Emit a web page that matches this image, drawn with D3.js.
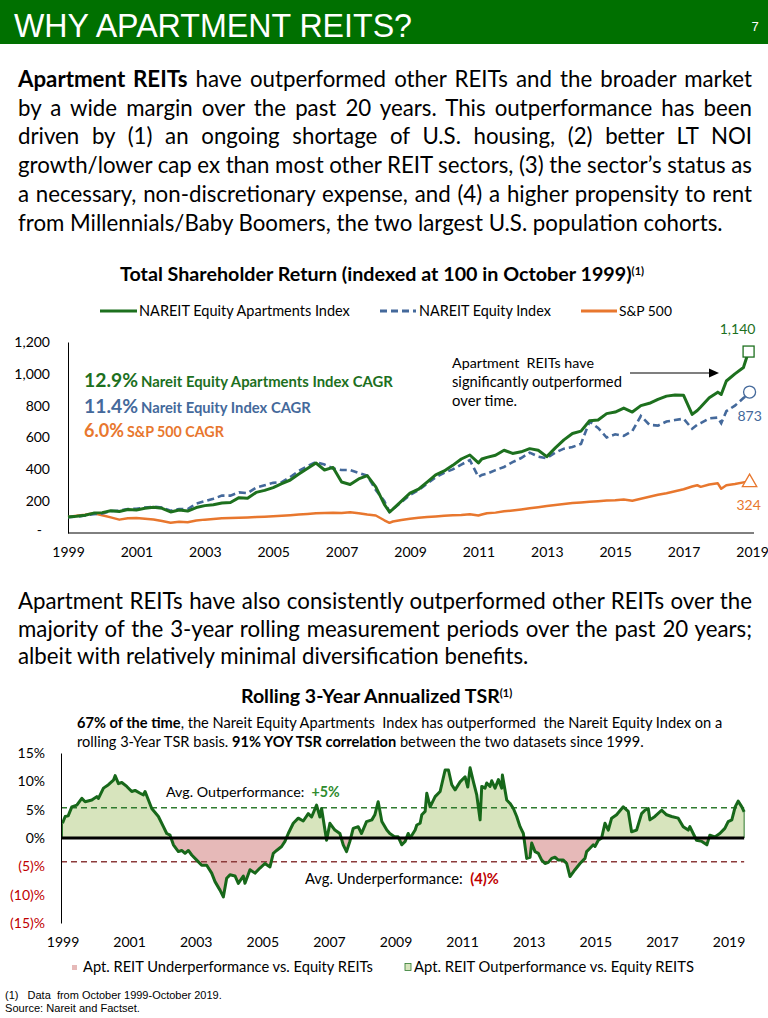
<!DOCTYPE html>
<html><head><meta charset="utf-8">
<script src="https://cdn.jsdelivr.net/npm/d3@7"></script>
<style>
body{margin:0;background:#fff;}
svg{display:block;}
text{font-family:Lato,"Open Sans",sans-serif;white-space:pre;}
.narrow{font-family:"Liberation Sans Narrow","Liberation Sans",Arial,sans-serif;}
</style></head><body>
<svg id="c" width="768" height="1018"></svg>
<script>
// ---------------- DATA ----------------
// Top chart: axis year 1999 = October 1999 (index = 100)
const tsrDates = [
 1999.00,1999.25,1999.50,1999.75, 2000.00,2000.25,2000.50,2000.75, 2001.00,2001.25,2001.50,2001.75,
 2002.00,2002.25,2002.50,2002.75, 2003.00,2003.25,2003.50,2003.75, 2004.00,2004.25,2004.50,2004.75,
 2005.00,2005.25,2005.50,2005.75, 2006.00,2006.25,2006.50,2006.75, 2007.00,2007.25,2007.50,2007.75,
 2008.00,2008.25,2008.40,2008.50,2008.75, 2009.00,2009.25,2009.50,2009.75, 2010.00,2010.25,2010.50,2010.75,
 2011.00,2011.10,2011.25,2011.50,2011.75, 2012.00,2012.25,2012.50,2012.75, 2013.00,2013.25,2013.50,2013.75,
 2014.00,2014.25,2014.50,2014.75, 2015.00,2015.25,2015.50,2015.75, 2016.00,2016.25,2016.50,2016.75,
 2017.00,2017.25,2017.40,2017.50,2017.75, 2018.00,2018.10,2018.25,2018.50,2018.75,2018.90];
const aptIndex = [
 100,105,112,125, 128,140,135,148, 145,155,162,155,
 132,145,138,160, 172,178,188,192, 222,218,255,268,
 285,310,333,370, 405,440,396,412, 320,305,340,360,
 290,180,132,150,200, 250,275,320,365, 390,425,465,490,
 440,465,475,488,520, 500,510,530,520, 480,535,585,625,
 640,705,710,750, 760,785,760,800, 815,840,860,867,
 865,745,770,792,850, 885,870,955,1000,1040,1140];
const equityIndex = [
 100,102,110,118, 122,138,140,150, 152,160,165,160,
 140,150,150,185, 200,215,235,235, 255,250,285,300,
 315,320,352,390, 420,445,430,405, 396,395,378,360,
 270,200,132,150,195, 239,270,310,350, 378,400,430,458,
 352,365,372,395,415, 445,471,505,480, 470,505,530,540,
 560,700,660,600, 620,610,640,735, 680,675,700,710,
 718,655,680,690,720, 725,690,765,800,848,873];
const sp500 = [
 100,108,115,124, 112,98,84,92, 94,90,85,75,
 65,70,68,78, 84,88,92,94, 96,98,100,102,
 105,108,112,116, 120,124,126,128, 125,130,124,116,
 110,80,64,72,82, 90,96,100,104, 108,112,113,118,
 110,116,124,128,136, 142,148,155,162, 170,176,182,188,
 192,196,200,204, 206,210,203,215, 228,240,250,262,
 275,292,300,290,305, 312,278,300,308,318,324];
const tsrYTicks = [0,200,400,600,800,1000,1200];
const tsrXTicks = [1999,2001,2003,2005,2007,2009,2011,2013,2015,2017,2019];
const seriesNames = ["NAREIT Equity Apartments Index","NAREIT Equity Index","S&P 500"];
const cagr = [["12.9%","Nareit Equity Apartments Index CAGR"],["11.4%","Nareit Equity Index CAGR"],["6.0%","S&P 500 CAGR"]];

// Bottom chart: rolling 3-year annualized TSR spread (Apt minus Equity), %
const rollDates = [
 1999.00,1999.08,1999.17,1999.28,1999.43,1999.58,1999.68,1999.88,
 2000.03,2000.08,2000.23,2000.38,2000.53,2000.58,2000.68,2000.78,2000.93,
 2001.08,2001.18,2001.33,2001.43,2001.48,2001.58,2001.68,2001.88,
 2002.03,2002.13,2002.23,2002.33,2002.48,2002.58,2002.68,2002.78,2002.88,
 2003.03,2003.18,2003.33,2003.48,2003.58,2003.73,2003.83,2003.93,
 2004.03,2004.18,2004.28,2004.43,2004.48,2004.63,2004.78,2004.93,
 2005.08,2005.23,2005.33,2005.43,2005.58,2005.68,2005.78,2005.93,
 2006.08,2006.23,2006.38,2006.48,2006.63,2006.73,2006.78,2006.93,
 2007.03,2007.18,2007.33,2007.43,2007.53,2007.63,2007.73,2007.88,2007.98,
 2008.13,2008.29,2008.38,2008.48,2008.59,2008.74,2008.83,2008.98,
 2009.08,2009.19,2009.29,2009.38,2009.44,2009.59,2009.64,2009.74,2009.79,2009.89,2009.94,
 2010.04,2010.19,2010.34,2010.49,2010.59,2010.69,2010.79,2010.94,
 2011.09,2011.17,2011.24,2011.34,2011.44,2011.54,2011.59,2011.69,2011.74,2011.84,2011.89,2011.99,
 2012.09,2012.19,2012.21,2012.34,2012.44,2012.54,2012.64,2012.74,2012.84,2012.94,
 2013.04,2013.09,2013.19,2013.29,2013.39,2013.49,2013.59,2013.69,2013.79,2013.89,
 2014.04,2014.14,2014.24,2014.39,2014.54,2014.69,2014.74,2014.84,2014.94,2014.99,
 2015.09,2015.19,2015.29,2015.39,2015.49,2015.64,2015.84,2015.99,
 2016.09,2016.24,2016.39,2016.49,2016.59,2016.64,2016.79,2016.99,
 2017.14,2017.29,2017.49,2017.64,2017.79,2017.84,2017.94,
 2018.04,2018.20,2018.35,2018.44,2018.59,2018.74,2018.89,2018.99,
 2019.10,2019.20,2019.29,2019.40,2019.47];
const rollSpread = [
 2.6,3.8,3.9,5.5,5.8,7.0,6.4,6.7,
 7.3,7.0,8.8,9.4,10.2,11.0,9.6,9.8,9.1,
 8.2,8.4,7.9,7.6,8.2,6.7,5.2,3.8,
 2.0,0.8,0.5,-1.2,-2.4,-2.2,-2.7,-2.2,-3.0,
 -3.9,-4.8,-4.8,-6.2,-7.7,-9.2,-10.4,-7.1,
 -6.5,-6.7,-8.0,-6.7,-8.0,-5.6,-6.2,-5.3,
 -4.5,-5.1,-2.7,-2.2,-1.5,-0.6,0.8,2.6,
 3.5,3.0,4.3,3.7,5.8,3.7,5.2,-0.4,
 2.6,1.4,0.8,-1.2,-2.4,-0.6,1.7,2.0,0.8,
 2.9,3.2,4.1,6.4,2.9,1.4,0.8,0.2,
 0.2,-1.2,-0.6,0.8,0.0,1.4,2.3,2.6,4.1,4.7,7.9,
 5.5,7.3,8.2,12.0,12.0,9.4,8.5,9.9,
 10.8,9.0,12.4,9.9,7.6,3.2,9.1,8.8,9.7,9.1,10.1,8.8,
 10.3,8.8,11.1,6.7,6.1,5.2,3.8,2.0,0.8,-3.6,
 -3.4,-0.9,-2.4,-2.7,-3.9,-4.5,-4.3,-3.6,-3.4,-3.9,
 -3.9,-4.5,-6.8,-5.6,-4.5,-3.6,-2.4,-1.8,-1.2,-1.5,
 -0.4,0.0,2.6,1.4,3.5,4.1,5.5,4.7,
 1.1,1.4,4.3,4.9,5.2,3.2,3.8,4.9,
 4.1,3.8,3.5,2.0,1.4,2.0,0.8,
 -0.4,-0.6,-1.2,0.5,0.2,0.8,1.7,2.9,
 3.2,5.5,6.5,5.5,4.6];
const avgOutperformance = 5.35;
const avgUnderperformance = -4.2;
const rollYTicks = [-15,-10,-5,0,5,10,15];
const rollXTicks = [1999,2001,2003,2005,2007,2009,2011,2013,2015,2017,2019];

// ---------------- DRAWING ----------------
const svg = d3.select('#c');
const C = {green:'#1d701e', blue:'#44699b', orange:'#e8772e', header:'#007000',
  fillG:'#d7e4bd', fillR:'#e6b9b8', red:'#c00000'};

function fit(sel, w){
  const cur = sel.node().getComputedTextLength();
  const fs = parseFloat(sel.attr('font-size'));
  sel.attr('font-size', fs * w / cur);
  return sel;
}
function addText(x, y, segs, fs, opts={}){
  const t = svg.append('text').attr('x',x).attr('y',y).attr('font-size',fs)
    .attr('fill',opts.fill||'#000');
  if(opts.anchor) t.attr('text-anchor',opts.anchor);
  if(opts.cls) t.attr('class',opts.cls);
  if(opts.weight) t.attr('font-weight',opts.weight);
  segs.forEach(s=>{
    if(typeof s==='string') s=[s];
    const sp=t.append('tspan').text(s[0]);
    if(s[1]) sp.attr('font-weight','bold');
    if(s[2]) sp.attr('fill',s[2]);
  });
  if(opts.width) fit(t, opts.width);
  return t;
}

// header
svg.append('rect').attr('x',0).attr('y',0).attr('width',768).attr('height',44).attr('fill',C.header);
svg.append('text').attr('class','narrow').attr('x',14).attr('y',37).attr('font-size',34)
  .attr('fill','#fff').attr('textLength',398).attr('lengthAdjust','spacingAndGlyphs').text('WHY APARTMENT REITS?');
svg.append('text').attr('class','narrow').attr('x',755).attr('y',31).attr('font-size',13)
  .attr('fill','#fff').attr('text-anchor','middle').text('7');

// paragraphs
function paragraph(lines, x, y0, lh, width, lastWidth, fixedFs){
  const fs0 = 20;
  const els = lines.map((segs,i)=>addText(x, y0+i*lh, segs, fs0));
  const last = els[els.length-1];
  const fs = fixedFs || fs0 * lastWidth / last.node().getComputedTextLength();
  els.forEach(e=>e.attr('font-size',fs));
  els.slice(0,-1).forEach(e=>{
    const w = e.node().getComputedTextLength();
    const n = (e.text().match(/ /g)||[]).length;
    e.attr('word-spacing', (width-w)/n);
  });
  return fs;
}
const pfs = paragraph([
  [["Apartment REITs",1],[" have outperformed other REITs and the broader market"]],
  ["by a wide margin over the past 20 years. This outperformance has been"],
  ["driven by (1) an ongoing shortage of U.S. housing, (2) better LT NOI"],
  ["growth/lower cap ex than most other REIT sectors, (3) the sector\u2019s status as"],
  ["a necessary, non-discretionary expense, and (4) a higher propensity to rent"],
  ["from Millennials/Baby Boomers, the two largest U.S. population cohorts."]
], 18, 87, 28.7, 734, 705);

paragraph([
  ["Apartment REITs have also consistently outperformed other REITs over the"],
  ["majority of the 3-year rolling measurement periods over the past 20 years;"],
  ["albeit with relatively minimal diversification benefits."]
], 18, 609, 27.5, 734, 640, pfs);

// ---------- TOP CHART ----------
{
  const x = d3.scaleLinear().domain([1999,2019]).range([68,752]);
  const y = d3.scaleLinear().domain([0,1200]).range([533,342]);
  const t = addText(120, 281, [["Total Shareholder Return (indexed at 100 in October 1999)"]], 16, {weight:'bold'});
  fit(t, 512);
  t.append('tspan').attr('font-size',11).attr('dy',-6).text('(1)');

  // legend
  const lg = svg.append('g');
  lg.append('line').attr('x1',100).attr('x2',137).attr('y1',311).attr('y2',311).attr('stroke',C.green).attr('stroke-width',3);
  addText(139, 316, [seriesNames[0]], 13.5, {width:211});
  lg.append('line').attr('x1',380).attr('x2',416).attr('y1',311).attr('y2',311).attr('stroke',C.blue).attr('stroke-width',3).attr('stroke-dasharray','7,4');
  addText(419, 316, [seriesNames[1]], 13.5, {width:132});
  lg.append('line').attr('x1',581).attr('x2',617).attr('y1',311).attr('y2',311).attr('stroke',C.orange).attr('stroke-width',3);
  addText(619, 316, [seriesNames[2]], 13.5, {width:53});

  // axes
  const yAx = svg.append('g').attr('transform','translate(68,0)')
    .call(d3.axisLeft(y).tickValues(tsrYTicks).tickSize(0).tickPadding(18)
      .tickFormat(d=> d===0 ? '' : d3.format(',')(d)));
  yAx.select('.domain').attr('stroke','#000').attr('stroke-width',1);
  yAx.selectAll('text').attr('font-size',14).attr('font-family','Lato,sans-serif').attr('fill','#000');
  svg.append('text').attr('x',42).attr('y',y(0)+2).attr('font-size',14).attr('text-anchor','end').text('-');
  svg.append('line').attr('x1',68).attr('x2',754).attr('y1',533).attr('y2',533).attr('stroke','#000').attr('stroke-width',1);
  const xAx = svg.append('g').attr('transform','translate(0,533)')
    .call(d3.axisBottom(x).tickValues(tsrXTicks).tickSize(0).tickPadding(14).tickFormat(d3.format('d')));
  xAx.select('.domain').remove();
  xAx.selectAll('text').attr('font-size',14).attr('font-family','Lato,sans-serif').attr('fill','#000');

  const line = d3.line().x((d,i)=>x(tsrDates[i])).y(d=>y(d)).curve(d3.curveLinear);
  svg.append('path').datum(sp500).attr('d',line).attr('fill','none').attr('stroke',C.orange).attr('stroke-width',2.5).attr('stroke-linejoin','round');
  svg.append('path').datum(equityIndex).attr('d',line).attr('fill','none').attr('stroke',C.blue).attr('stroke-width',2.6).attr('stroke-dasharray','7,4');
  svg.append('path').datum(aptIndex).attr('d',line).attr('fill','none').attr('stroke',C.green).attr('stroke-width',3).attr('stroke-linejoin','round');

  const n = tsrDates.length-1, lx = x(tsrDates[n]);
  svg.append('rect').attr('x',lx-5.5).attr('y',y(aptIndex[n])-5.5).attr('width',11).attr('height',11)
    .attr('fill','#fff').attr('stroke',C.green).attr('stroke-width',1.3);
  svg.append('circle').attr('cx',lx+1).attr('cy',y(equityIndex[n])-2).attr('r',6)
    .attr('fill','#fff').attr('stroke',C.blue).attr('stroke-width',1.3);
  svg.append('path').attr('d',d3.symbol(d3.symbolTriangle,90)()).attr('transform',`translate(${lx+1},${y(sp500[n])+1})`)
    .attr('fill','#fff').attr('stroke',C.orange).attr('stroke-width',1.3);
  addText(lx-11, y(aptIndex[n])-18, [d3.format(',')(aptIndex[n])], 14, {fill:C.green, anchor:'middle'});
  addText(lx+1, y(equityIndex[n])+27, [d3.format(',')(equityIndex[n])], 14, {fill:C.blue, anchor:'middle'});
  addText(lx, y(sp500[n])+29, [d3.format(',')(sp500[n])], 14, {fill:C.orange, anchor:'middle'});

  // CAGR labels
  const cc = [C.green, C.blue, C.orange];
  const cy = [387, 413, 437];
  const descW = [252, 170, 97];
  cagr.forEach((c,i)=>{
    const a = svg.append('text').attr('x',84).attr('y',cy[i]).attr('font-size',20).attr('font-weight','bold').attr('fill',cc[i]).text(c[0]);
    fit(a, i===2 ? 40 : 54);
    const aw = a.node().getComputedTextLength();
    addText(84+aw+3, cy[i], [c[1]], 14, {fill:cc[i], weight:'bold', width:descW[i]});
  });

  // annotation
  addText(452, 368, ["Apartment  REITs have"], 14, {width:142});
  addText(452, 387, ["significantly outperformed"], 14, {width:170});
  addText(452, 406, ["over time."], 14, {width:65});
  svg.append('line').attr('x1',630).attr('x2',711).attr('y1',373).attr('y2',373).attr('stroke','#000').attr('stroke-width',1.2);
  svg.append('path').attr('d','M719,373 L709,368.5 L709,377.5 Z').attr('fill','#000');
}

// ---------- BOTTOM CHART ----------
{
  const x = d3.scaleLinear().domain([1999,2019]).range([62.5,728.5]);
  const y = d3.scaleLinear().domain([-15,15]).range([923,753]);
  const t = addText(241, 703, [["Rolling 3-Year Annualized TSR"]], 16, {weight:'bold'});
  fit(t, 259);
  t.append('tspan').attr('font-size',11).attr('dy',-6).text('(1)');

  addText(77, 728, [["67% of the time",1],[", the Nareit Equity Apartments  Index has outperformed  the Nareit Equity Index on a"]], 13, {width:646});
  addText(77, 747, [["rolling 3-Year TSR basis. "],["91% YOY TSR correlation",1],[" between the two datasets since 1999."]], 13, {width:567});

  const defs = svg.append('defs');
  defs.append('clipPath').attr('id','above').append('rect').attr('x',0).attr('y',700).attr('width',768).attr('height',y(0)-700);
  defs.append('clipPath').attr('id','below').append('rect').attr('x',0).attr('y',y(0)).attr('width',768).attr('height',120);

  const area = d3.area().x((d,i)=>x(rollDates[i])).y0(y(0)).y1(d=>y(d));
  svg.append('path').datum(rollSpread).attr('d',area).attr('fill',C.fillR).attr('clip-path','url(#below)');
  svg.append('path').datum(rollSpread).attr('d',area).attr('fill',C.fillG).attr('stroke','#2e7a2e').attr('stroke-width',1).attr('clip-path','url(#above)');

  const xEnd = x(rollDates[rollDates.length-1]);
  svg.append('line').attr('x1',61).attr('x2',xEnd).attr('y1',y(avgOutperformance)).attr('y2',y(avgOutperformance))
    .attr('stroke','#2e7a2e').attr('stroke-width',1.5).attr('stroke-dasharray','6,4');
  svg.append('line').attr('x1',61).attr('x2',xEnd).attr('y1',y(avgUnderperformance)).attr('y2',y(avgUnderperformance))
    .attr('stroke','#8c3b3b').attr('stroke-width',1.5).attr('stroke-dasharray','6,4');

  const line = d3.line().x((d,i)=>x(rollDates[i])).y(d=>y(d));
  svg.append('path').datum(rollSpread).attr('d',line).attr('fill','none').attr('stroke','#17681a').attr('stroke-width',3).attr('stroke-linejoin','round');

  svg.append('line').attr('x1',61).attr('x2',xEnd).attr('y1',y(0)).attr('y2',y(0)).attr('stroke','#000').attr('stroke-width',3);

  const yAx = svg.append('g').attr('transform','translate(61,0)')
    .call(d3.axisLeft(y).tickValues(rollYTicks).tickSize(0).tickPadding(16)
      .tickFormat(d=> d<0 ? `(${-d})%` : `${d}%`));
  yAx.select('.domain').attr('stroke','#000').attr('stroke-width',1);
  yAx.selectAll('text').attr('font-size',14).attr('font-family','Lato,sans-serif').attr('fill',d=> d<0 ? C.red : '#000');

  const xAx = svg.append('g').attr('transform','translate(0,923)')
    .call(d3.axisBottom(x).tickValues(rollXTicks).tickSize(0).tickPadding(14).tickFormat(d3.format('d')));
  xAx.select('.domain').remove();
  xAx.selectAll('text').attr('font-size',14).attr('font-family','Lato,sans-serif').attr('fill','#000');

  addText(166, 797, [["Avg. Outperformance:  "],["+5%",1,'#2e8b2e']], 14, {width:174});
  addText(305, 884, [["Avg. Underperformance:  "],["(4)%",1,C.red]], 14, {width:194});

  // legend
  svg.append('rect').attr('x',72).attr('y',965).attr('width',5).attr('height',5).attr('fill',C.fillR);
  addText(83, 972, ["Apt. REIT Underperformance vs. Equity REITs"], 14, {width:290});
  svg.append('rect').attr('x',405).attr('y',963.5).attr('width',6).attr('height',7).attr('fill',C.fillG).attr('stroke','#2e7a2e').attr('stroke-width',0.8);
  addText(414, 972, ["Apt. REIT Outperformance vs. Equity REITS"], 14, {width:280});
}

// footnotes
addText(5, 999, ["(1)   Data  from October 1999-October 2019."], 10.5, {cls:'narrow', width:217});
addText(5, 1012, ["Source: Nareit and Factset."], 10.5, {cls:'narrow', width:135});
</script>
</body></html>
